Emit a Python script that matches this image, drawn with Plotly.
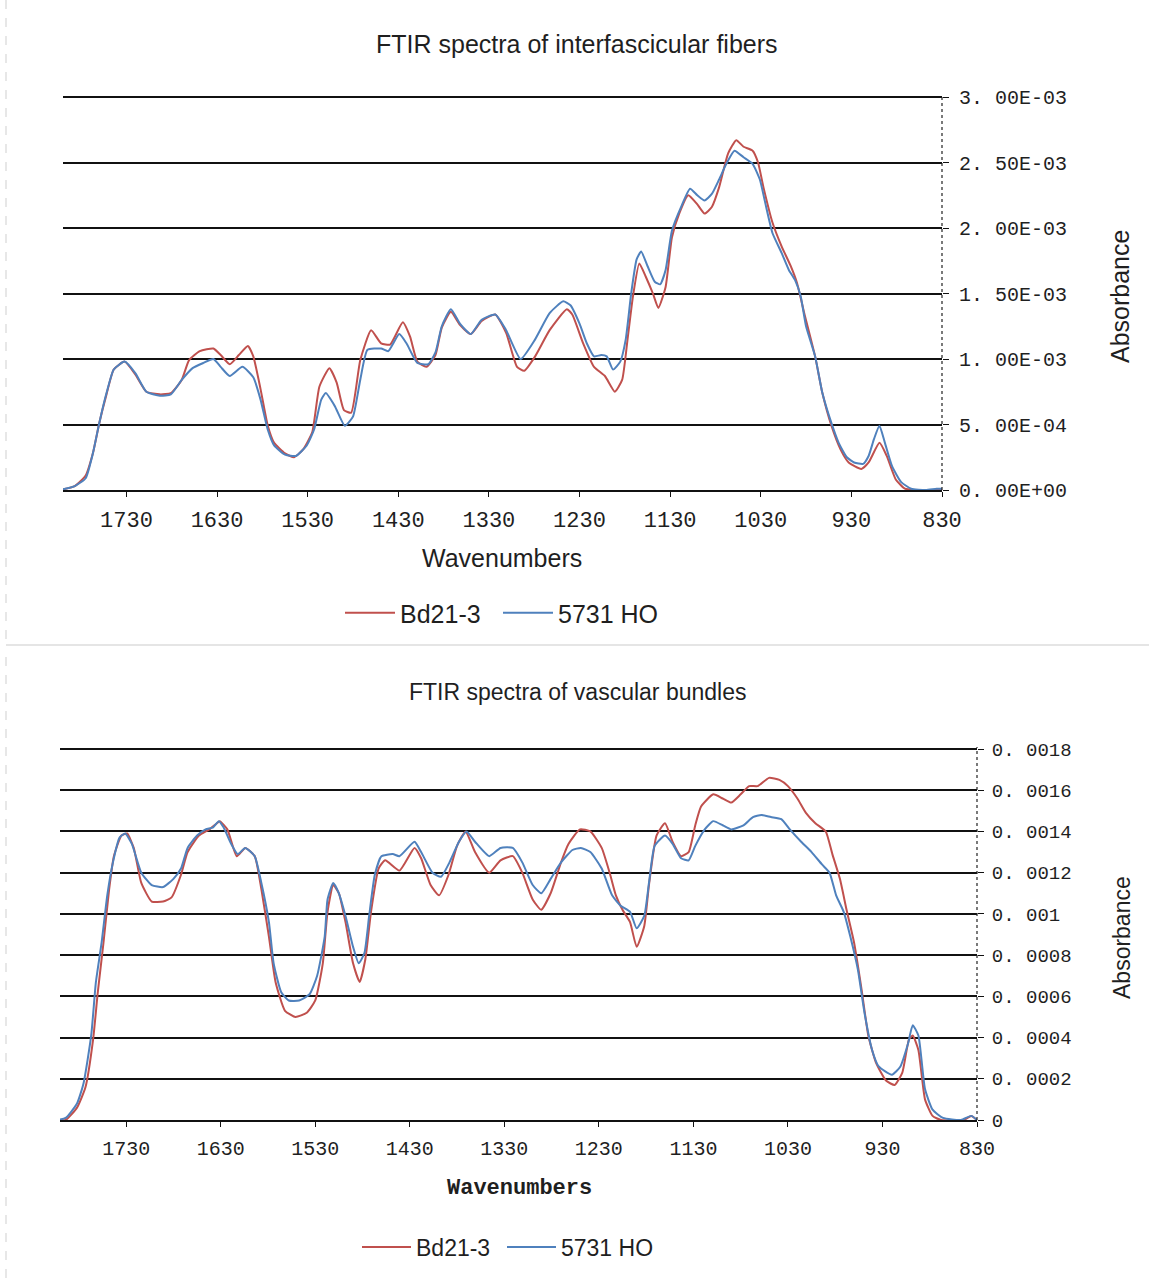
import plotly.graph_objects as go

# ---------------- data ----------------
series_names = ["Bd21-3", "5731 HO"]
titles = ["FTIR spectra of interfascicular fibers", "FTIR spectra of vascular bundles"]
x_title = "Wavenumbers"
y_title = "Absorbance"

x_tickvals = [1730, 1630, 1530, 1430, 1330, 1230, 1130, 1030, 930, 830]
x_ticktext = ["1730", "1630", "1530", "1430", "1330", "1230", "1130", "1030", "930", "830"]

top_y_tickvals = [0, 0.0005, 0.001, 0.0015, 0.002, 0.0025, 0.003]
top_y_ticktext = ["0. 00E+00", "5. 00E-04", "1. 00E-03", "1. 50E-03", "2. 00E-03", "2. 50E-03", "3. 00E-03"]
bot_y_tickvals = [0, 0.0002, 0.0004, 0.0006, 0.0008, 0.001, 0.0012, 0.0014, 0.0016, 0.0018]
bot_y_ticktext = ["0", "0. 0002", "0. 0004", "0. 0006", "0. 0008", "0. 001", "0. 0012", "0. 0014", "0. 0016", "0. 0018"]

# Top panel: interfascicular fibers
top_bd_wn = [1803, 1787, 1775, 1767, 1760, 1752, 1744, 1732, 1720, 1708, 1693, 1681, 1669, 1661, 1649, 1634,
             1626, 1616, 1606, 1596, 1590, 1582, 1574, 1567, 1555, 1545, 1535, 1525, 1517, 1506, 1498, 1490,
             1482, 1472, 1460, 1449, 1439, 1425, 1417, 1409, 1399, 1389, 1382, 1372, 1362, 1350, 1338, 1323,
             1311, 1299, 1291, 1279, 1263, 1244, 1238, 1226, 1214, 1202, 1191, 1183, 1177, 1171, 1164, 1157,
             1149, 1143, 1135, 1128, 1120, 1110, 1100, 1092, 1084, 1076, 1066, 1057, 1049, 1039, 1033, 1027,
             1017, 1007, 997, 990, 982, 970, 962, 952, 942, 933, 919, 911, 899, 891, 881, 871, 860, 830]
top_bd_abs = [0, 0.00003, 0.00011, 0.00028, 0.00051, 0.00073, 0.00092, 0.00098, 0.00088, 0.00075, 0.00073,
              0.00074, 0.00084, 0.00099, 0.00106, 0.00108, 0.00103, 0.00096, 0.00103, 0.00110, 0.00102,
              0.00077, 0.00049, 0.00036, 0.00028, 0.00025, 0.00031, 0.00044, 0.00079, 0.00093, 0.00082,
              0.00061, 0.00059, 0.00099, 0.00122, 0.00112, 0.00111, 0.00128, 0.00117, 0.00098, 0.00094,
              0.00103, 0.00124, 0.00136, 0.00126, 0.00119, 0.00129, 0.00134, 0.00120, 0.00094, 0.00091,
              0.00102, 0.00122, 0.00138, 0.00134, 0.00112, 0.00094, 0.00087, 0.00075, 0.00084, 0.00115,
              0.00148, 0.00173, 0.00163, 0.00150, 0.00139, 0.00155, 0.00193, 0.00211, 0.00225, 0.00218,
              0.00211, 0.00216, 0.00231, 0.00257, 0.00267, 0.00262, 0.00259, 0.00250, 0.00231, 0.00204,
              0.00186, 0.00171, 0.00158, 0.00135, 0.00102, 0.00074, 0.00049, 0.00031, 0.00021, 0.00016,
              0.00021, 0.00036, 0.00026, 0.00008, 0.00001, 0, 0]

top_ho_wn = [1803, 1787, 1775, 1767, 1760, 1752, 1744, 1732, 1720, 1708, 1693, 1681, 1669, 1657, 1645, 1634,
             1626, 1616, 1602, 1590, 1582, 1574, 1567, 1555, 1543, 1531, 1523, 1515, 1510, 1500, 1489, 1480,
             1472, 1464, 1449, 1441, 1429, 1421, 1409, 1397, 1389, 1382, 1372, 1362, 1350, 1338, 1323, 1311,
             1295, 1279, 1263, 1248, 1240, 1230, 1222, 1214, 1206, 1200, 1193, 1185, 1179, 1173, 1167, 1162,
             1155, 1147, 1141, 1135, 1128, 1118, 1108, 1100, 1092, 1084, 1076, 1068, 1059, 1049, 1039, 1031,
             1025, 1017, 1007, 999, 992, 986, 980, 970, 962, 952, 944, 935, 927, 917, 911, 905, 899, 893,
             885, 875, 864, 848, 836, 830]
top_ho_abs = [0, 0.00003, 0.00009, 0.00028, 0.00051, 0.00074, 0.00092, 0.00098, 0.00089, 0.00075, 0.00072,
              0.00073, 0.00084, 0.00093, 0.00097, 0.00100, 0.00094, 0.00087, 0.00094, 0.00086, 0.00069,
              0.00046, 0.00034, 0.00027, 0.00026, 0.00034, 0.00046, 0.00069, 0.00074, 0.00064, 0.00049,
              0.00056, 0.00084, 0.00107, 0.00108, 0.00106, 0.00119, 0.00112, 0.00097, 0.00096, 0.00105,
              0.00125, 0.00138, 0.00127, 0.00119, 0.00130, 0.00134, 0.00122, 0.00100, 0.00115, 0.00135,
              0.00144, 0.00141, 0.00127, 0.00112, 0.00102, 0.00103, 0.00102, 0.00092, 0.00098, 0.00115,
              0.00150, 0.00176, 0.00182, 0.00171, 0.00159, 0.00157, 0.00168, 0.00198, 0.00216, 0.00230,
              0.00225, 0.00221, 0.00226, 0.00237, 0.00249, 0.00259, 0.00254, 0.00249, 0.00237, 0.00219,
              0.00196, 0.00181, 0.00168, 0.00160, 0.00148, 0.00125, 0.00102, 0.00074, 0.00051, 0.00036,
              0.00025, 0.00021, 0.00020, 0.00026, 0.00039, 0.00049, 0.00036, 0.00018, 0.00006, 0.00001,
              0.0, 0.00001, 0.00001]

# Bottom panel: vascular bundles
bot_bd_wn = [1803, 1794, 1782, 1773, 1765, 1760, 1754, 1748, 1743, 1735, 1729, 1722, 1714, 1703, 1691, 1682,
             1672, 1665, 1653, 1642, 1634, 1631, 1623, 1613, 1604, 1594, 1587, 1579, 1572, 1562, 1551, 1539,
             1530, 1522, 1517, 1511, 1505, 1498, 1490, 1483, 1477, 1471, 1463, 1456, 1441, 1425, 1418, 1408,
             1399, 1389, 1380, 1371, 1361, 1346, 1334, 1321, 1311, 1300, 1291, 1281, 1270, 1262, 1250, 1239,
             1227, 1218, 1212, 1205, 1197, 1190, 1182, 1177, 1169, 1160, 1152, 1143, 1135, 1128, 1122, 1109,
             1099, 1090, 1080, 1071, 1062, 1050, 1039, 1030, 1020, 1011, 1001, 990, 983, 975, 968, 960, 952,
             945, 937, 926, 917, 909, 902, 898, 892, 885, 877, 868, 844, 836, 830]
bot_bd_abs = [0, 0, 0.00006, 0.00016, 0.00039, 0.00062, 0.00086, 0.00112, 0.00128, 0.00138, 0.00139, 0.00132,
              0.00115, 0.00106, 0.00106, 0.00108, 0.00119, 0.00130, 0.00138, 0.00141, 0.00144, 0.00145,
              0.00141, 0.00128, 0.00132, 0.00128, 0.00112, 0.00089, 0.00067, 0.00053, 0.00050, 0.00052,
              0.00058, 0.00076, 0.00101, 0.00114, 0.00110, 0.00096, 0.00076, 0.00067, 0.00078, 0.00101,
              0.00122, 0.00126, 0.00121, 0.00132, 0.00127, 0.00114, 0.00109, 0.00119, 0.00133, 0.00140,
              0.00130, 0.00120, 0.00126, 0.00128, 0.00120, 0.00107, 0.00102, 0.00110, 0.00125, 0.00134,
              0.00141, 0.00140, 0.00132, 0.00119, 0.00109, 0.00102, 0.00096, 0.00084, 0.00094, 0.00114,
              0.00138, 0.00144, 0.00135, 0.00128, 0.00130, 0.00143, 0.00152, 0.00158, 0.00156, 0.00154,
              0.00158, 0.00162, 0.00162, 0.00166, 0.00165, 0.00162, 0.00156, 0.00149, 0.00144, 0.00140,
              0.00129, 0.00117, 0.00102, 0.00086, 0.00063, 0.00041, 0.00028, 0.00019, 0.00017, 0.00023,
              0.00039, 0.00041, 0.00034, 0.00010, 0.00002, 0, 0, 0.00002, 0]

bot_ho_wn = [1803, 1794, 1782, 1775, 1767, 1762, 1756, 1750, 1744, 1737, 1731, 1724, 1714, 1703, 1691, 1680,
             1672, 1665, 1655, 1646, 1638, 1632, 1627, 1619, 1612, 1604, 1594, 1587, 1579, 1574, 1566, 1558,
             1547, 1536, 1528, 1520, 1517, 1511, 1505, 1498, 1490, 1484, 1478, 1473, 1467, 1460, 1448, 1441,
             1425, 1418, 1406, 1397, 1388, 1378, 1370, 1361, 1346, 1334, 1321, 1311, 1300, 1291, 1281, 1270,
             1258, 1249, 1239, 1227, 1216, 1207, 1197, 1190, 1182, 1177, 1171, 1160, 1152, 1143, 1135, 1128,
             1118, 1109, 1099, 1090, 1077, 1067, 1058, 1048, 1037, 1028, 1016, 1005, 994, 986, 979, 971, 964,
             956, 949, 941, 934, 920, 911, 903, 898, 892, 885, 877, 866, 847, 836, 830]
bot_ho_abs = [0, 0.00001, 0.00008, 0.00018, 0.00041, 0.00067, 0.00086, 0.00109, 0.00125, 0.00137, 0.00139,
              0.00134, 0.00120, 0.00114, 0.00113, 0.00117, 0.00122, 0.00132, 0.00138, 0.00141, 0.00142,
              0.00145, 0.00142, 0.00134, 0.00129, 0.00132, 0.00128, 0.00115, 0.00096, 0.00076, 0.00062,
              0.00058, 0.00058, 0.00061, 0.00070, 0.00089, 0.00107, 0.00115, 0.00110, 0.00099, 0.00084,
              0.00076, 0.00081, 0.00099, 0.00119, 0.00128, 0.00129, 0.00128, 0.00135, 0.00130, 0.00120,
              0.00118, 0.00125, 0.00135, 0.00140, 0.00135, 0.00128, 0.00132, 0.00132, 0.00125, 0.00114,
              0.00110, 0.00117, 0.00125, 0.00131, 0.00132, 0.00130, 0.00122, 0.00109, 0.00104, 0.00101,
              0.00093, 0.00099, 0.00115, 0.00133, 0.00138, 0.00134, 0.00127, 0.00126, 0.00133, 0.00141,
              0.00145, 0.00143, 0.00141, 0.00143, 0.00147, 0.00148, 0.00147, 0.00146, 0.00141, 0.00135,
              0.00130, 0.00124, 0.00120, 0.00109, 0.00101, 0.00089, 0.00073, 0.00052, 0.00034, 0.00026,
              0.00022, 0.00026, 0.00037, 0.00046, 0.00041, 0.00015, 0.00005, 0.00001, 0, 0.00002, 0]

# ---------------- styling ----------------
W, H = 1149, 1285
RED = "#C0504D"
BLUE = "#4F81BD"
TXT = "#1f1f1f"
SANS = "Liberation Sans, Arial, sans-serif"
MONO = "Liberation Mono, Courier New, monospace"


def px_x(p):
    return p / W


def px_y(p):
    return 1 - p / H


fig = go.Figure()

line_kw = dict(width=2, shape="spline", smoothing=0.5)
fig.add_trace(go.Scatter(x=top_bd_wn, y=top_bd_abs, name=series_names[0], mode="lines",
                         line=dict(color=RED, **line_kw), xaxis="x", yaxis="y", legend="legend"))
fig.add_trace(go.Scatter(x=top_ho_wn, y=top_ho_abs, name=series_names[1], mode="lines",
                         line=dict(color=BLUE, **line_kw), xaxis="x", yaxis="y", legend="legend2"))
fig.add_trace(go.Scatter(x=bot_bd_wn, y=bot_bd_abs, name=series_names[0], mode="lines",
                         line=dict(color=RED, **line_kw), xaxis="x2", yaxis="y2", legend="legend3"))
fig.add_trace(go.Scatter(x=bot_ho_wn, y=bot_ho_abs, name=series_names[1], mode="lines",
                         line=dict(color=BLUE, **line_kw), xaxis="x2", yaxis="y2", legend="legend4"))

xaxis_common = dict(
    range=[1800, 830], tickmode="array", tickvals=x_tickvals, ticktext=x_ticktext,
    showgrid=False, zeroline=False, showline=True, linecolor="#111", linewidth=2,
    ticks="outside", ticklen=5, tickcolor="#111", tickwidth=1, ticklabelstandoff=4,
)
yaxis_common = dict(
    side="right", tickmode="array", showgrid=True, gridcolor="#111", gridwidth=1.6,
    zeroline=False, showline=False, ticks="outside", ticklen=6, tickcolor="#111",
)

# keep the top grid line slightly inside the plot area so it is drawn
PAD = 2
top_h = 490 - 97
bot_h = 1120 - 749


def legend_at(xp, yp, size, iw):
    return dict(orientation="h", x=px_x(xp), y=px_y(yp), xanchor="left", yanchor="middle",
                font=dict(family=SANS, size=size, color=TXT), bgcolor="rgba(0,0,0,0)",
                itemwidth=iw)


fig.update_layout(
    width=W, height=H,
    margin=dict(l=0, r=0, t=0, b=0, autoexpand=False),
    paper_bgcolor="white", plot_bgcolor="white",
    xaxis=dict(domain=[px_x(63), px_x(942)], anchor="y",
               tickfont=dict(family=MONO, size=22, color=TXT), **xaxis_common),
    yaxis=dict(domain=[px_y(490), px_y(97 - PAD)], anchor="x",
               range=[0, 0.003 * (top_h + PAD) / top_h],
               tickvals=top_y_tickvals, ticktext=top_y_ticktext, ticklabelstandoff=6,
               tickfont=dict(family=MONO, size=20, color=TXT), **yaxis_common),
    xaxis2=dict(domain=[px_x(60), px_x(977)], anchor="y2",
                tickfont=dict(family=MONO, size=20, color=TXT), **xaxis_common),
    yaxis2=dict(domain=[px_y(1120), px_y(749 - PAD)], anchor="x2",
                range=[0, 0.0018 * (bot_h + PAD) / bot_h],
                tickvals=bot_y_tickvals, ticktext=bot_y_ticktext, ticklabelstandoff=4,
                tickfont=dict(family=MONO, size=19, color=TXT), **yaxis_common),
    legend=legend_at(340, 613, 25, 50),
    legend2=legend_at(498, 613, 25, 50),
    legend3=legend_at(357, 1247, 23, 49),
    legend4=legend_at(502, 1247, 23, 49),
    showlegend=True,
)

annotations = [
    dict(text=titles[0], x=px_x(577), y=px_y(44), font=dict(family=SANS, size=25, color=TXT)),
    dict(text=titles[1], x=px_x(577), y=px_y(692), font=dict(family=SANS, size=23, color=TXT)),
    dict(text=x_title, x=px_x(502), y=px_y(558), font=dict(family=SANS, size=25, color=TXT)),
    dict(text="<b>" + x_title + "</b>", x=px_x(519), y=px_y(1188),
         font=dict(family=MONO, size=22, color=TXT)),
    dict(text=y_title, x=px_x(1120), y=px_y(297), textangle=-90,
         font=dict(family=SANS, size=25, color=TXT)),
    dict(text=y_title, x=px_x(1122), y=px_y(938), textangle=-90,
         font=dict(family=SANS, size=23, color=TXT)),
]
for a in annotations:
    a.update(xref="paper", yref="paper", showarrow=False, xanchor="center", yanchor="middle")
fig.update_layout(annotations=annotations)

fig.update_layout(shapes=[
    # dotted vertical value axes on the right
    dict(type="line", xref="x domain", yref="y domain", x0=1, x1=1, y0=0, y1=1,
         line=dict(color="#222", width=1.2, dash="dot")),
    dict(type="line", xref="x2 domain", yref="y2 domain", x0=1, x1=1, y0=0, y1=1,
         line=dict(color="#222", width=1.2, dash="dot")),
    # faint panel borders
    dict(type="line", xref="paper", yref="paper", x0=px_x(6), x1=1, y0=px_y(645), y1=px_y(645),
         line=dict(color="#dcdcdc", width=1.5)),
    dict(type="line", xref="paper", yref="paper", x0=px_x(6), x1=px_x(6), y0=px_y(0), y1=px_y(645),
         line=dict(color="#cfcfcf", width=1, dash="dash")),
    dict(type="line", xref="paper", yref="paper", x0=px_x(6), x1=px_x(6), y0=px_y(657), y1=px_y(1285),
         line=dict(color="#cfcfcf", width=1, dash="dash")),
])

post = ("document.body.style.margin='0';document.body.style.overflow='hidden';"
        "var gd=document.getElementById('{plot_id}');gd.style.position='absolute';"
        "gd.style.left='0px';gd.style.top='0px';")
fig.write_html("out.html", post_script=post, config={"displayModeBar": False})
